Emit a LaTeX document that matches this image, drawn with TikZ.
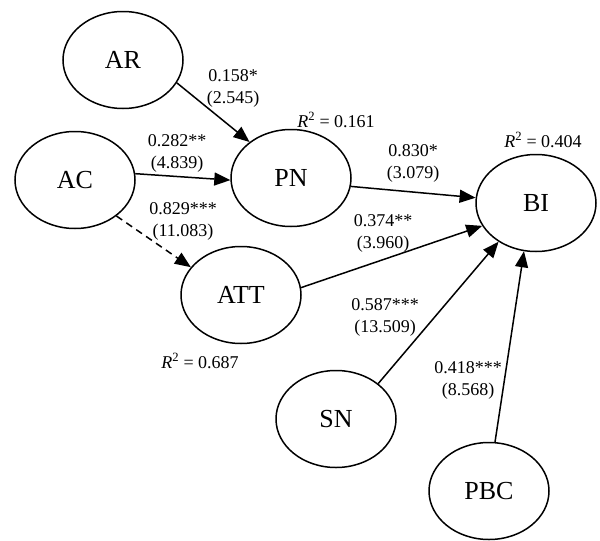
\documentclass[tikz,border=0pt]{standalone}
\usepackage{fontspec}
\setmainfont{Liberation Serif}
\usetikzlibrary{shapes.geometric,arrows.meta}
\tikzset{
  latent/.style={ellipse, draw, line width=1.5pt, minimum width=120pt, minimum height=97pt, inner sep=0pt, font=\fontsize{26}{30}\selectfont},
  path/.style={line width=1.5pt, -{Triangle[length=16pt,width=13pt]}},
  dpath/.style={path, dash pattern=on 7pt off 5pt},
  coef/.style={align=center, font=\fontsize{18}{22}\selectfont, inner sep=0pt},
  rsq/.style={font=\fontsize{18}{22}\selectfont, inner sep=0pt}
}
\begin{document}
\begin{tikzpicture}[x=1pt,y=-1pt]
\useasboundingbox (0,0) rectangle (600,541);
\node[latent] (AR) at (123,60) {AR};
\node[latent] (AC) at (75,180) {AC};
\node[latent] (PN) at (291,178) {PN};
\node[latent] (ATT) at (241,295) {ATT};
\node[latent] (BI) at (536,203) {BI};
\node[latent] (SN) at (336,419) {SN};
\node[latent] (PBC) at (489,491) {PBC};

\draw[path] (AR.-23) -- (PN.139);
\draw[path] (AC.6) -- (PN.182);
\draw[dpath] (AC.-41) -- (ATT.151);
\draw[path] (PN.-8) -- (BI.175);
\draw[path] (ATT.7) -- (BI.203);
\draw[path] (SN.40) -- (BI.226);
\draw[path] (PBC.83) -- (BI.256);

\node[coef] (l1) at (233,88) {0.158*\\(2.545)};
\node[coef] (l2) at (177,153) {0.282**\\(4.839)};
\node[coef] (l3) at (183,221) {0.829***\\(11.083)};
\node[coef] (l4) at (413,163) {0.830*\\(3.079)};
\node[coef] (l5) at (383,233) {0.374**\\(3.960)};
\node[coef] (l6) at (385,317) {0.587***\\(13.509)};
\node[coef] (l7) at (468,380) {0.418***\\(8.568)};

\node[rsq] (r1) at (336,120) {\textit{R}\textsuperscript{2} = 0.161};
\node[rsq] (r2) at (543,140) {\textit{R}\textsuperscript{2} = 0.404};
\node[rsq] (r3) at (200,361) {\textit{R}\textsuperscript{2} = 0.687};
\end{tikzpicture}
\end{document}
